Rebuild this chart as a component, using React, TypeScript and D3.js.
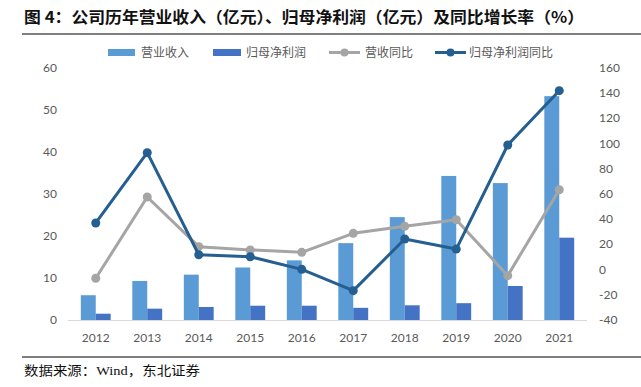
import React from "react";
import * as d3 from "d3";

const years = ["2012", "2013", "2014", "2015", "2016", "2017", "2018", "2019", "2020", "2021"];
const revenue = [5.9, 9.3, 10.8, 12.5, 14.2, 18.3, 24.5, 34.3, 32.6, 53.3];
const netProfit = [1.5, 2.7, 3.1, 3.4, 3.4, 2.9, 3.5, 4.0, 8.1, 19.6];
const revenueYoY = [-6.9, 57.6, 18.2, 15.6, 13.7, 28.8, 34.4, 39.6, -4.8, 63.4];
const profitYoY = [37.0, 92.8, 11.8, 10.2, 0.2, -16.7, 24.3, 16.3, 98.9, 142.0];
const leftTicks = [0, 10, 20, 30, 40, 50, 60];
const rightTicks = [-40, -20, 0, 20, 40, 60, 80, 100, 120, 140, 160];

const title = "图 4：公司历年营业收入（亿元）、归母净利润（亿元）及同比增长率（%）";
const source = "数据来源：Wind，东北证券";
const legendNames = ["营业收入", "归母净利润", "营收同比", "归母净利润同比"];

const C_REV = "#5B9BD5";
const C_NP = "#4472C4";
const C_GRAY = "#A5A5A5";
const C_DARK = "#255E91";
const LABEL = "#595959";
const CJK = "'Noto Sans CJK SC', sans-serif";
const NUM = "Lato, 'Liberation Sans', sans-serif";

export default function App() {
  const W = 641, H = 387;
  const x = d3.scaleBand<string>().domain(years).range([70, 585]).paddingInner(0.42).paddingOuter(0.21);
  const sub = d3.scaleBand<number>().domain([0, 1]).range([0, x.bandwidth()]);
  const yL = d3.scaleLinear().domain([0, 60]).range([320, 68]);
  const yR = d3.scaleLinear().domain([-40, 160]).range([320, 68]);
  const cx = (y: string) => (x(y) as number) + x.bandwidth() / 2;
  const lineGen = d3.line<number>().x((_, i) => cx(years[i])).y((v) => yR(v));

  return (
    <svg width={W} height={H} style={{ position: "absolute", left: 0, top: 0, background: "#fff" }}>
      <rect width={W} height={H} fill="#fff" />
      <text x={24} y={23} fontFamily={CJK} fontWeight={700} fontSize={16} fill="#111" textLength={560} lengthAdjust="spacingAndGlyphs">{title}</text>
      <line x1={22} x2={641} y1={34} y2={34} stroke="#555" strokeWidth={1.5} />

      {/* legend */}
      <g fontFamily={CJK} fontSize={12} fill={LABEL}>
        <rect x={108} y={49} width={27} height={7} fill={C_REV} />
        <text x={141} y={57}>{legendNames[0]}</text>
        <rect x={213} y={49} width={28} height={7} fill={C_NP} />
        <text x={246} y={57}>{legendNames[1]}</text>
        <line x1={329} x2={360} y1={52.5} y2={52.5} stroke={C_GRAY} strokeWidth={3} />
        <circle cx={344.5} cy={52.5} r={4} fill={C_GRAY} />
        <text x={365} y={57}>{legendNames[2]}</text>
        <line x1={435} x2={466} y1={52.5} y2={52.5} stroke={C_DARK} strokeWidth={3} />
        <circle cx={450.5} cy={52.5} r={4} fill={C_DARK} />
        <text x={469} y={57}>{legendNames[3]}</text>
      </g>

      {/* ticks */}
      <g fontFamily={NUM} fontSize={12} fill={LABEL}>
        {leftTicks.map((t) => (
          <text key={t} x={57} y={yL(t) + 4} textAnchor="end">{t}</text>
        ))}
        {rightTicks.map((t) => (
          <text key={t} x={599} y={yR(t) + 4} textAnchor="start">{t}</text>
        ))}
        {years.map((yv) => (
          <text key={yv} x={cx(yv)} y={342} textAnchor="middle">{yv}</text>
        ))}
      </g>

      {/* bars */}
      {years.map((yv, i) => (
        <g key={yv}>
          <rect x={(x(yv) as number) + (sub(0) as number)} y={yL(revenue[i])} width={sub.bandwidth()} height={yL(0) - yL(revenue[i])} fill={C_REV} />
          <rect x={(x(yv) as number) + (sub(1) as number)} y={yL(netProfit[i])} width={sub.bandwidth()} height={yL(0) - yL(netProfit[i])} fill={C_NP} />
        </g>
      ))}
      <line x1={68} x2={587} y1={320.5} y2={320.5} stroke="#D9D9D9" strokeWidth={1} />

      {/* lines */}
      <path d={lineGen(revenueYoY) || ""} fill="none" stroke={C_GRAY} strokeWidth={3} strokeLinejoin="round" />
      {revenueYoY.map((v, i) => (
        <circle key={i} cx={cx(years[i])} cy={yR(v)} r={4.5} fill={C_GRAY} />
      ))}
      <path d={lineGen(profitYoY) || ""} fill="none" stroke={C_DARK} strokeWidth={3} strokeLinejoin="round" />
      {profitYoY.map((v, i) => (
        <circle key={i} cx={cx(years[i])} cy={yR(v)} r={4.5} fill={C_DARK} />
      ))}

      <line x1={22} x2={641} y1={357} y2={357} stroke="#555" strokeWidth={1.5} />
      <text x={24} y={375} fontFamily="'Liberation Serif', 'Noto Sans CJK SC', serif" fontSize={13} fill="#111" textLength={176} lengthAdjust="spacingAndGlyphs">{source}</text>
    </svg>
  );
}
